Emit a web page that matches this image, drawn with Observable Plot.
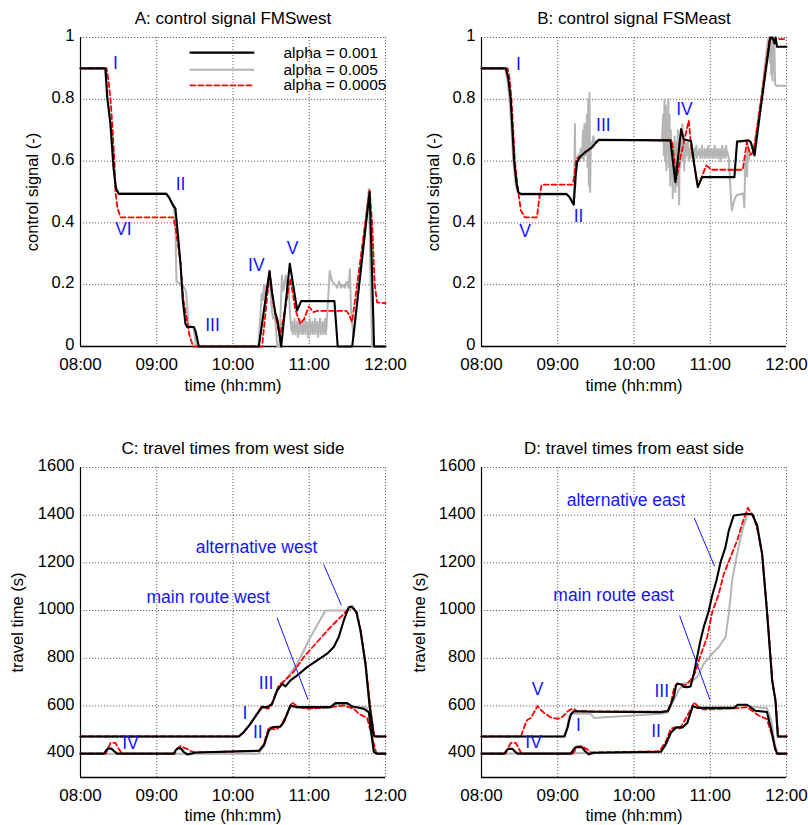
<!DOCTYPE html>
<html><head><meta charset="utf-8">
<script src="https://cdn.jsdelivr.net/npm/d3@7"></script>
<script src="https://cdn.jsdelivr.net/npm/@observablehq/plot@0.6"></script>
<style>
body{margin:0;background:#fff;font-family:Arial,"Liberation Sans",sans-serif;}
#wrap{position:relative;width:808px;height:825px;overflow:hidden;}
.panel{position:absolute;}
</style></head><body><div id="wrap"></div>
<script>
// ---------- ticks ----------
const xTicks = [0, 60, 120, 180, 240]; // minutes after 08:00
const xTickLabels = ["08:00", "09:00", "10:00", "11:00", "12:00"];
const signalTicks = [0, 0.2, 0.4, 0.6, 0.8, 1];
const travelTicks = [400, 600, 800, 1000, 1200, 1400, 1600];
const legendLabels = ["alpha = 0.001", "alpha = 0.005", "alpha = 0.0005"];

// ---------- A: control signal FMSwest  [minute, value] ----------
const A_black = [[0,0.9],[19.7,0.9],[21,0.807],[23.6,0.72],[26.2,0.57],[28,0.51],[30.1,0.494],[67.7,0.494],[70,0.48],[72.5,0.46],[74.7,0.446],[76.7,0.36],[78.7,0.268],[80.5,0.15],[82.6,0.073],[84,0.063],[89.2,0.063],[90.5,0.05],[93.1,0],[140.3,0],[148.7,0.244],[150.5,0.18],[153.2,0.111],[155,0.085],[157.9,0],[164.7,0.268],[170.5,0.117],[173.6,0.147],[199.8,0.147],[202.4,0],[213.8,0],[227.5,0.5],[229,0.3],[231,0],[240,0]];
const A_gray = [[0,0.9],[19,0.9],[21,0.82],[23,0.74],[25.5,0.6],[27.5,0.52],[29.5,0.5],[31,0.496],[67,0.496],[70,0.48],[73,0.45],[74.5,0.42],[75.5,0.21],[80,0.2],[83,0.18],[85,0.07],[89,0.06],[91,0],[140,0],[141.6,0.1],[142.5,0.17],[143.5,0.15],[144.5,0.2],[145.5,0.16],[146.5,0.2],[147.5,0.18],[148.7,0.24],[150,0.14],[151.5,0.09],[153,0.1],[154.8,0],[156.5,0],[158.5,0.23],[159.5,0.18],[160.5,0.2],[161.5,0.23],[162.5,0.19],[163.5,0.21],[165,0.1],[166,0.05],[166.5,0.08],[167,0.04],[167.5,0.07],[168,0.05],[168.5,0.09],[169,0.04],[169.5,0.06],[170,0.05],[170.5,0.08],[171,0.03],[171.5,0.07],[172,0.05],[172.5,0.09],[173,0.04],[173.5,0.06],[174,0.05],[174.5,0.08],[175,0.04],[175.5,0.07],[176,0.05],[176.5,0.09],[177,0.04],[177.5,0.06],[178,0.05],[178.5,0.08],[179,0.03],[179.5,0.07],[180,0.06],[180.5,0.09],[181,0.04],[181.5,0.07],[182,0.05],[182.5,0.08],[183,0.04],[183.5,0.06],[184,0.05],[184.5,0.09],[185,0.04],[185.5,0.07],[186,0.05],[186.5,0.08],[187,0.03],[187.5,0.07],[188,0.05],[188.5,0.09],[189,0.04],[189.5,0.06],[190,0.05],[190.5,0.08],[191,0.04],[191.5,0.07],[192,0.05],[192.5,0.09],[193,0.04],[193.5,0.06],[196.1,0.244],[198,0.21],[200.6,0.2],[202,0.19],[203.5,0.21],[205,0.19],[206.5,0.2],[208,0.19],[209.5,0.21],[211,0.19],[212,0.25],[213,0.1],[214.9,0.03],[227,0.51],[228.3,0.2],[229.5,0],[240,0]];
const A_red = [[0,0.9],[20.5,0.9],[22,0.86],[23.6,0.8],[25,0.72],[26.7,0.6],[27.5,0.5],[29,0.45],[31.5,0.418],[73,0.418],[75,0.38],[78.7,0.268],[81,0.15],[83.9,0.084],[85.5,0.04],[87.9,0.009],[89,0],[142.9,0],[148.9,0.244],[152,0.13],[156.9,0.03],[165.2,0.22],[169,0.12],[173,0.073],[176,0.09],[179.6,0.129],[183.5,0.111],[186,0.115],[209.3,0.115],[211,0.105],[213.7,0.079],[227.5,0.505],[229.5,0.4],[231.5,0.2],[233.4,0.143],[240,0.14]];

// ---------- B: control signal FSMeast ----------
const B_black = [[0,0.9],[19.2,0.9],[21,0.87],[23,0.8],[25.7,0.6],[27.5,0.53],[28.9,0.5],[31,0.493],[67,0.493],[69,0.485],[71,0.47],[72.6,0.459],[74,0.55],[75.2,0.597],[77.8,0.615],[82,0.63],[87.1,0.645],[90,0.66],[92.4,0.669],[148.7,0.667],[150,0.62],[152.6,0.532],[157.1,0.704],[159.2,0.67],[164.9,0.665],[167,0.6],[170.2,0.516],[173.6,0.548],[199,0.548],[201.1,0.663],[210.3,0.667],[212,0.66],[214.8,0.618],[220,0.78],[227.2,1.0],[229,1.0],[230.6,0.98],[231.5,1.0],[232.5,0.97],[240,0.97]];
const B_gray = [[0,0.9],[18.5,0.9],[20.5,0.86],[22.5,0.78],[25,0.6],[27,0.52],[28.5,0.5],[30.5,0.495],[67,0.495],[70,0.48],[72,0.47],[73,0.5],[73.5,0.72],[74,0.52],[74.5,0.6],[75,0.58],[76,0.62],[77,0.6],[78,0.64],[79,0.61],[80,0.7],[80.5,0.6],[81,0.72],[82,0.62],[83,0.75],[83.5,0.58],[84,0.8],[84.5,0.52],[85,0.82],[85.5,0.5],[86,0.66],[87,0.65],[88,0.68],[89,0.66],[91,0.667],[142,0.667],[143,0.75],[143.5,0.62],[144,0.8],[144.5,0.6],[145,0.78],[145.5,0.57],[146,0.72],[146.5,0.66],[147,0.8],[147.5,0.58],[148,0.75],[148.5,0.52],[149,0.7],[149.5,0.55],[150,0.66],[150.5,0.48],[151,0.62],[151.5,0.56],[152,0.68],[152.5,0.5],[153,0.6],[153.5,0.66],[154,0.52],[154.5,0.7],[155,0.55],[155.5,0.46],[156,0.64],[156.5,0.58],[157,0.69],[157.5,0.62],[158,0.72],[158.5,0.6],[159,0.67],[159.5,0.57],[160,0.65],[160.5,0.61],[161,0.66],[162,0.62],[162.5,0.66],[163,0.6],[163.5,0.64],[164.5,0.61],[165,0.65],[165.5,0.62],[166,0.64],[166.5,0.61],[167,0.63],[167.5,0.6],[168,0.64],[168.5,0.62],[169,0.65],[169.5,0.61],[170,0.63],[171,0.62],[171.5,0.64],[172,0.61],[172.5,0.63],[173,0.62],[173.5,0.65],[174,0.61],[174.5,0.63],[175,0.62],[175.5,0.64],[176,0.61],[176.5,0.63],[177,0.62],[177.5,0.64],[178,0.61],[178.5,0.65],[179,0.62],[179.5,0.63],[180,0.61],[180.5,0.64],[181,0.62],[181.5,0.63],[182,0.61],[182.5,0.64],[183,0.62],[183.5,0.65],[184,0.61],[184.5,0.63],[185,0.62],[185.5,0.64],[186,0.61],[186.5,0.63],[187,0.62],[187.5,0.64],[188,0.6],[188.5,0.63],[189,0.62],[189.5,0.65],[190,0.61],[190.5,0.63],[191,0.62],[191.5,0.64],[192,0.61],[192.5,0.65],[193,0.62],[193.5,0.63],[194.5,0.61],[196,0.5],[197,0.44],[198,0.46],[199.5,0.48],[201,0.49],[206,0.495],[206.8,0.45],[207.5,0.58],[208,0.62],[209,0.55],[209.5,0.65],[210,0.6],[211,0.63],[212,0.62],[214,0.63],[216,0.68],[220,0.8],[225,0.98],[226,1.0],[227,0.92],[227.5,1.0],[228,0.88],[228.5,0.98],[229,0.86],[229.5,1.0],[230,0.9],[230.5,0.97],[231,0.85],[232,0.844],[240,0.844]];
const B_red = [[0,0.9],[20.5,0.9],[22,0.87],[23.6,0.8],[26.3,0.6],[28.9,0.5],[31,0.44],[34.1,0.418],[43.6,0.418],[45.5,0.48],[47.3,0.524],[71.7,0.524],[73,0.55],[74.3,0.6],[75.5,0.61],[77.8,0.615],[82,0.63],[87.1,0.645],[92.4,0.669],[150,0.667],[153.4,0.543],[157,0.62],[163.1,0.731],[165,0.646],[169.4,0.537],[172,0.535],[176.8,0.586],[181.2,0.572],[205.6,0.572],[208.8,0.662],[211.5,0.62],[214,0.63],[220,0.8],[226.6,0.995],[240,0.995]];

// ---------- C: travel times from west side (s) ----------
const C_altBlack = [[0,472],[124.6,472],[128.5,490],[133.7,525],[139,567],[142.9,595],[146.9,595],[150.8,609],[154.7,665],[158.7,693],[161.3,682],[165.2,707],[170.5,728],[178.3,763],[186.2,791],[194.1,819],[199.3,847],[203.2,889],[207.2,959],[211.1,1014],[213.7,1017],[217.1,993],[220.3,917],[224.2,777],[227.6,595],[230.8,476],[232,472],[240,472]];
const C_altGray = [[0,472],[124,472],[128,490],[133,522],[138.5,565],[142.5,590],[147,592],[150.8,610],[154.7,662],[158.7,690],[170.5,777],[181,889],[192.8,1000],[211.1,1000],[213.7,1012],[217.1,993],[220.3,917],[224.2,777],[227.6,595],[230.8,476],[232,472],[240,472]];
const C_altRed = [[0,472],[124.6,472],[128.5,490],[133.7,525],[139,567],[142,595],[144.2,600],[147,588],[149.5,595],[152.1,630],[156,686],[161.3,710],[166.5,735],[175.7,805],[186.2,868],[196.7,931],[207.2,986],[212.4,1017],[214,1014],[217.5,990],[220.5,915],[224.5,775],[228,595],[231,476],[232.3,472],[240,472]];
const C_mainBlack = [[0,400],[18.4,400],[20,412],[21.5,421],[24.5,421],[26.5,410],[28.9,400],[73.4,400],[75,415],[76.5,422],[79,422],[81,408],[84,397],[87,400],[90.6,405],[140.5,412],[144.2,434],[148.2,497],[150.8,511],[157.3,514],[160,532],[165.2,602],[170.5,595],[196.7,595],[200.6,612],[209.8,612],[213.7,598],[222.9,588],[226.9,574],[228.5,500],[230.8,407],[233.4,400],[240,400]];
const C_mainGray = [[0,400],[140,400],[144.2,430],[148.2,495],[150.8,508],[157.3,512],[160,530],[165.2,598],[170.5,593],[196.7,593],[200.6,608],[209.8,605],[213.7,598],[225,595],[227.5,560],[230,450],[232,400],[240,400]];
const C_mainRed = [[0,400],[20,400],[21.5,420],[23.6,445],[27.5,445],[29.5,425],[32.8,400],[74,400],[76,420],[78.7,432],[81,425],[84,420],[87,410],[90.6,405],[140.5,412],[144.2,440],[148.2,511],[150.8,505],[153.6,500],[157.3,515],[161.3,553],[166.5,616],[170.5,598],[178.3,588],[196.7,595],[207.2,602],[215,588],[219,567],[225.5,550],[229.5,470],[232.9,400],[240,400]];

// ---------- D: travel times from east side (s) ----------
const D_altBlack = [[0,472],[65.1,472],[67.8,510],[69,540],[70.4,565],[72.7,578],[88.4,576],[140.9,574],[146.5,578],[148.5,600],[151.3,637],[153,685],[154,693],[157.5,690],[159,680],[161.8,679],[164.5,682],[167.1,735],[169.7,805],[172.3,875],[174.9,931],[178.9,1000],[181.5,1063],[184.9,1126],[188.1,1203],[192,1266],[194.6,1336],[198.5,1399],[209,1406],[213,1404],[216.9,1357],[220.8,1238],[224.8,986],[228.7,707],[231.3,623],[233.2,472],[240,472]];
const D_altGray = [[0,472],[66,472],[68.8,553],[70.1,567],[86,567],[88.4,550],[100,554],[120,560],[140.9,567],[146.5,572],[150,610],[155,665],[159.2,693],[164,700],[169.7,721],[174.9,777],[181.5,819],[186.7,847],[192,889],[194.6,986],[197.2,1126],[201.2,1238],[205.1,1336],[209,1399],[213,1404],[216.9,1357],[220.8,1238],[224.8,986],[228.7,707],[231.3,623],[233.2,472],[240,472]];
const D_altRed = [[0,472],[31,472],[33.5,510],[35.7,540],[38.9,550],[41.5,575],[44.1,600],[46.5,585],[49.4,570],[54.6,552],[59.9,546],[63,552],[65.1,562],[68,578],[70.4,586],[72.7,588],[75,578],[140.9,576],[146.5,580],[149,610],[151.5,675],[154,695],[157,692],[160,685],[164.4,707],[168.4,742],[172.3,812],[177.6,889],[181.5,993],[186.7,1070],[190.7,1154],[195.9,1224],[201.2,1294],[205.1,1364],[209.6,1431],[211.5,1415],[214.3,1392],[217.5,1330],[221,1230],[225,980],[229,700],[231.5,620],[233.5,472],[240,472]];
const D_mainBlack = [[0,400],[17.9,400],[19.5,412],[21,420],[24.4,420],[26.5,408],[28.4,400],[70.4,400],[72.5,418],[74,427],[79,427],[81.5,410],[84.5,397],[88.4,404],[141.3,408],[145,440],[149.2,490],[153,510],[158,510],[162,530],[166.2,600],[170,592],[199,592],[201.5,605],[209,605],[215.5,580],[224.6,575],[228,500],[231,420],[233,400],[240,400]];
const D_mainGray = [[0,400],[140,404],[145,435],[149.2,488],[153,507],[158,508],[162,528],[166.2,598],[170,592],[199,590],[201.5,603],[209,603],[213,597],[224.6,590],[228,540],[230.5,450],[232.5,400],[240,400]];
const D_mainRed = [[0,400],[19,400],[21,425],[23,445],[27,445],[29,425],[31.5,400],[72,400],[75.3,430],[78.3,432],[81,425],[83.2,418],[86,405],[140,410],[145,450],[149,505],[152,510],[156,505],[160,540],[167.5,615],[171,595],[175,585],[199,590],[209,595],[218,560],[224.6,545],[229,470],[232.5,400],[240,400]];

// ---------- annotations [minute, value, text] ----------
const A_notes = [[27.5,0.916,"I"],[78.7,0.524,"II"],[33.8,0.379,"VI"],[103.9,0.068,"III"],[138.4,0.262,"IV"],[166.8,0.317,"V"]];
const B_notes = [[29.1,0.914,"I"],[34.4,0.372,"V"],[76.4,0.42,"II"],[95.9,0.717,"III"],[159.7,0.766,"IV"]];
const C_notes = [[39.3,443,"IV"],[129.3,568,"I"],[139.5,491,"II"],[146.1,694,"III"],[138.5,1264,"alternative west"],[100.5,1054,"main route west"]];
const D_notes = [[44.1,670,"V"],[41,446,"IV"],[76.2,520,"I"],[137.3,495,"II"],[141.8,663,"III"],[113.7,1463,"alternative east"],[104,1064,"main route east"]];
const C_pointers = [[[191.5,1192],[205.1,1024]],[[154.8,968],[178.9,628]]];
const D_pointers = [[[167.5,1387],[183.3,1187]],[[156,978],[179.6,628]]];
// legend placement (panel A, data units)
const legendX = [86.5, 136.1], legendTextX = 159.7, legendY = [0.951, 0.896, 0.845];

// ---------- styles ----------
const sBlack = {stroke: "#000000", strokeWidth: 2.1};
const sGray = {stroke: "#b5b5b5", strokeWidth: 2};
const sRed = {stroke: "#ff0000", strokeWidth: 1.8, strokeDasharray: "5,3"};
const blue = "#1414ff";
const gridStyle = {stroke: "#3a3a3a", strokeOpacity: 1, strokeWidth: 0.8, strokeDasharray: "1.2,1.8"};

function panel(o) {
  const marks = [
    Plot.gridX(xTicks, gridStyle),
    Plot.gridY(o.yTicks, gridStyle),
    Plot.ruleX([0], {stroke: "#000", strokeWidth: 1.2}),
    Plot.ruleY([o.yDomain[0]], {stroke: "#000", strokeWidth: 1.6}),
    Plot.axisX(xTicks, {tickSize: 0, tickPadding: 11, tickFormat: d => xTickLabels[xTicks.indexOf(d)], label: null}),
    Plot.axisY(o.yTicks, {tickSize: 0, tickPadding: 6, dy: -1.5, fontSize: 16.5, tickFormat: d => String(d), label: null})
  ];
  for (const [data, st] of o.lines) marks.push(Plot.line(data, {x: d => d[0], y: d => d[1], ...st}));
  if (o.pointers) for (const p of o.pointers) marks.push(Plot.line(p, {x: d => d[0], y: d => d[1], stroke: blue, strokeWidth: 1}));
  marks.push(Plot.text(o.notes, {x: d => d[0], y: d => d[1], text: d => d[2], fill: blue, fontSize: 17.5}));
  if (o.legend) {
    [sBlack, sGray, sRed].forEach((st, i) => {
      marks.push(Plot.line(legendX, {x: d => d, y: () => legendY[i], ...st}));
    });
    marks.push(Plot.text(legendLabels, {x: () => legendTextX, y: (d, i) => legendY[i], textAnchor: "start", fontSize: 15.5, fill: "#000"}));
  }
  marks.push(Plot.text([o.title], {frameAnchor: "top", dy: -19, textAnchor: "middle", lineAnchor: "middle", fontSize: 17, fill: "#000"}));
  marks.push(Plot.text([o.yLabel], {frameAnchor: "left", dx: -o.ylabelOff, rotate: -90, textAnchor: "middle", lineAnchor: "middle", fontSize: 16.5, fill: "#000"}));
  marks.push(Plot.text(["time (hh:mm)"], {frameAnchor: "bottom", dy: o.xlabelOff, textAnchor: "middle", lineAnchor: "middle", fontSize: 16.5, fill: "#000"}));
  const svg = Plot.plot({
    width: 404, height: o.height,
    marginLeft: o.ml, marginRight: o.mr, marginTop: o.mt, marginBottom: o.mb,
    x: {domain: [0, 240]},
    y: {domain: o.yDomain},
    style: {fontSize: "17px", fontFamily: "Arial, 'Liberation Sans', sans-serif", overflow: "visible", background: "transparent", color: "#000"},
    marks
  });
  svg.classList.add("panel");
  svg.style.left = o.left + "px";
  svg.style.top = o.top + "px";
  document.getElementById("wrap").appendChild(svg);
}

panel({title: "A: control signal FMSwest", yLabel: "control signal (-)", yDomain: [0, 1], yTicks: signalTicks,
  lines: [[A_gray, sGray], [A_red, sRed], [A_black, sBlack]], notes: A_notes, legend: true,
  left: 0, top: 0, height: 400, ml: 80, mr: 19, mt: 37, mb: 54, ylabelOff: 48, xlabelOff: 39});
panel({title: "B: control signal FSMeast", yLabel: "control signal (-)", yDomain: [0, 1], yTicks: signalTicks,
  lines: [[B_gray, sGray], [B_red, sRed], [B_black, sBlack]], notes: B_notes,
  left: 404, top: 0, height: 400, ml: 77, mr: 22, mt: 37, mb: 54, ylabelOff: 48, xlabelOff: 39});
panel({title: "C: travel times from west side", yLabel: "travel time (s)", yDomain: [300, 1600], yTicks: travelTicks,
  lines: [[C_altGray, sGray], [C_mainGray, sGray], [C_altRed, sRed], [C_mainRed, sRed], [C_altBlack, sBlack], [C_mainBlack, sBlack]],
  notes: C_notes, pointers: C_pointers,
  left: 0, top: 410, height: 415, ml: 80, mr: 19, mt: 57, mb: 48, ylabelOff: 63, xlabelOff: 38});
panel({title: "D: travel times from east side", yLabel: "travel time (s)", yDomain: [300, 1600], yTicks: travelTicks,
  lines: [[D_altGray, sGray], [D_mainGray, sGray], [D_altRed, sRed], [D_mainRed, sRed], [D_altBlack, sBlack], [D_mainBlack, sBlack]],
  notes: D_notes, pointers: D_pointers,
  left: 404, top: 410, height: 415, ml: 77, mr: 22, mt: 57, mb: 48, ylabelOff: 62, xlabelOff: 38});
</script></body></html>
